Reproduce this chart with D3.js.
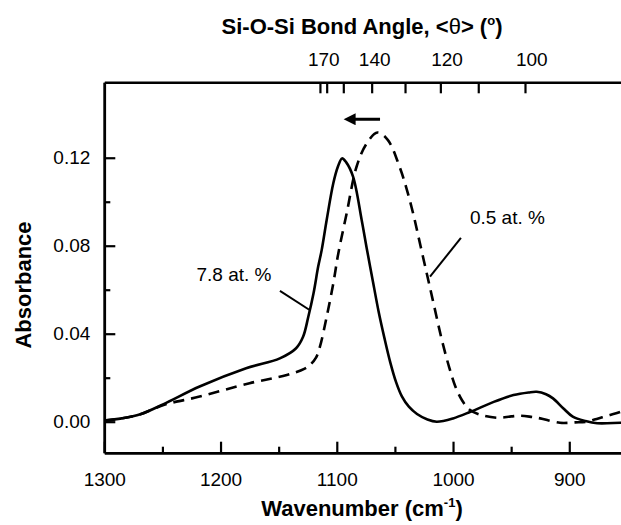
<!DOCTYPE html>
<html lang="en">
<head>
<meta charset="UTF-8">
<script src="https://cdn.jsdelivr.net/npm/d3@7"></script>
<title>Si-O-Si absorbance</title>
<style>
    body { margin: 0; background: white; }
    text { font-family: "Liberation Sans", Arial, sans-serif; fill: black; }
    .tick text { font-size: 19px; }
    .lbl { font-size: 19px; }
    .ttl { font-size: 22px; font-weight: bold; }
</style>
</head>
<body>
<div id="chart"></div>
<script>

    // wavenumber ticks (bottom)
    var wnMajor = [1300, 1200, 1100, 1000, 900];
    var wnMinor = [1250, 1150, 1050, 950];
    // absorbance ticks (left)
    var absMajor = [0.00, 0.04, 0.08, 0.12];
    var absMinor = [0.02, 0.06, 0.10];
    // bond angle ticks (top), placed at wavenumber
    var angleTickWn = [1114.5, 1108.7, 1094.4, 1070.0, 1041.3, 1010.9, 978.3, 938.1];
    var angleLabels = ["170", "140", "120", "100"];
    var angleLabelWn = [1111.2, 1067.4, 1005.2, 932.3];

    // 7.8 at. % (solid)
    var wnSolid = [1300, 1285, 1269, 1249, 1218, 1178, 1149, 1135, 1129, 1124.5, 1120, 1116, 1113,
        1108.7, 1103, 1099, 1095.5, 1092, 1086, 1078.6, 1074.3, 1069, 1064, 1059, 1054, 1049, 1044,
        1038, 1031, 1022, 1014, 1000, 985, 965, 948, 935, 928, 920, 914, 905, 897, 886, 876, 856, 850];
    var absSolid = [0.0005, 0.0015, 0.0034, 0.008, 0.016, 0.0243, 0.0288, 0.0334, 0.0386, 0.0477, 0.0584, 0.0705, 0.078,
        0.0917, 0.1084, 0.116, 0.1197, 0.118, 0.1114, 0.0917, 0.079, 0.064, 0.050, 0.038, 0.027, 0.018, 0.0115,
        0.0068, 0.0035, 0.001, 0.0, 0.0015, 0.0045, 0.009, 0.0121, 0.0133, 0.0136, 0.0125, 0.0106, 0.006, 0.0023, 0.0003, -0.0007, -0.0005, -0.0005];

    // 0.5 at. % (dashed)
    var wnDash = [1300, 1285, 1269, 1249, 1218, 1175, 1143, 1128, 1123, 1118, 1114.5, 1108.7, 1103, 1098.7,
        1091.5, 1083, 1074.3, 1065, 1056, 1046, 1040, 1034, 1028, 1022, 1016, 1010, 1004, 998, 992, 986,
        977, 962, 950, 942, 933, 925, 908, 895, 885, 875, 865, 856, 850];
    var absDash = [0.0005, 0.0015, 0.0034, 0.0076, 0.0114, 0.0175, 0.0212, 0.024, 0.0258, 0.029, 0.0341, 0.0477, 0.0629, 0.0765,
        0.0947, 0.1159, 0.1265, 0.1315, 0.128, 0.1159, 0.106, 0.094, 0.080, 0.066, 0.052, 0.038, 0.026, 0.016, 0.0095, 0.0055,
        0.0032, 0.0018, 0.0024, 0.0027, 0.0022, 0.0015, -0.0005, -0.0003, 0.0, 0.0015, 0.003, 0.0045, 0.006];

    var W = 621, H = 525;
    var svg = d3.select("#chart").append("svg")
        .attr("width", W)
        .attr("height", H);

    var x = d3.scaleLinear().domain([1300, 850]).range([104.3, 627.4]);
    var y = d3.scaleLinear().domain([-0.0141, 0.1543]).range([452.7, 82.3]);
    var top_ = y.range()[1], bottom = y.range()[0], left = x.range()[0];

    function styleAxis(g) {
        g.select(".domain").attr("stroke-width", 2.5);
        g.selectAll(".tick line").attr("stroke-width", 2.2);
    }

    // bottom axis
    svg.append("g")
        .attr("transform", "translate(0," + bottom + ")")
        .call(d3.axisBottom(x).tickValues(wnMajor).tickSizeInner(-11).tickSizeOuter(0).tickPadding(20).tickFormat(d3.format("d")))
        .call(styleAxis);
    svg.append("g")
        .attr("transform", "translate(0," + bottom + ")")
        .call(d3.axisBottom(x).tickValues(wnMinor).tickSizeInner(-6).tickSizeOuter(0).tickFormat(""))
        .call(styleAxis);

    // left axis
    svg.append("g")
        .attr("transform", "translate(" + left + ",0)")
        .call(d3.axisLeft(y).tickValues(absMajor).tickSizeInner(-11).tickSizeOuter(0).tickPadding(14).tickFormat(d3.format(".2f")))
        .call(styleAxis);
    svg.append("g")
        .attr("transform", "translate(" + left + ",0)")
        .call(d3.axisLeft(y).tickValues(absMinor).tickSizeInner(-6).tickSizeOuter(0).tickFormat(""))
        .call(styleAxis);

    // top axis (bond angle)
    svg.append("g")
        .attr("transform", "translate(0," + top_ + ")")
        .call(d3.axisTop(x).tickValues(angleTickWn).tickSizeInner(-11).tickSizeOuter(0).tickFormat(""))
        .call(styleAxis);
    svg.selectAll(".anglelbl")
        .data(angleLabels)
        .enter().append("text")
        .attr("class", "lbl")
        .attr("x", (d, i) => x(angleLabelWn[i]))
        .attr("y", 66)
        .attr("text-anchor", "middle")
        .text(d => d);

    // curves
    var line = d3.line()
        .x(d => x(d[0]))
        .y(d => y(d[1]))
        .curve(d3.curveCatmullRom.alpha(0.5));

    svg.append("path")
        .datum(wnDash.map((w, i) => [w, absDash[i]]))
        .attr("fill", "none")
        .attr("stroke", "black")
        .attr("stroke-width", 2.6)
        .attr("stroke-dasharray", "11,7")
        .attr("d", line);

    svg.append("path")
        .datum(wnSolid.map((w, i) => [w, absSolid[i]]))
        .attr("fill", "none")
        .attr("stroke", "black")
        .attr("stroke-width", 2.6)
        .attr("d", line);

    // arrow showing peak shift
    svg.append("defs").append("marker")
        .attr("id", "head")
        .attr("viewBox", "0 0 10 10")
        .attr("refX", 6).attr("refY", 5)
        .attr("markerWidth", 4.5).attr("markerHeight", 4)
        .attr("markerUnits", "strokeWidth")
        .attr("orient", "auto")
        .append("path").attr("d", "M0,0 L10,5 L0,10 Z").attr("fill", "black");
    svg.append("line")
        .attr("x1", x(1062.8)).attr("y1", y(0.1375))
        .attr("x2", x(1090)).attr("y2", y(0.1375))
        .attr("stroke", "black").attr("stroke-width", 3)
        .attr("marker-end", "url(#head)");

    // labels with leader lines
    svg.append("text").attr("class", "lbl")
        .attr("x", x(1188.4)).attr("y", y(0.064))
        .attr("text-anchor", "middle").text("7.8 at. %");
    svg.append("line")
        .attr("x1", x(1148.9)).attr("y1", y(0.0595))
        .attr("x2", x(1123.7)).attr("y2", y(0.0509))
        .attr("stroke", "black").attr("stroke-width", 2);

    svg.append("text").attr("class", "lbl")
        .attr("x", x(953.2)).attr("y", y(0.0899))
        .attr("text-anchor", "middle").text("0.5 at. %");
    svg.append("line")
        .attr("x1", x(993.2)).attr("y1", y(0.0836))
        .attr("x2", x(1019.8)).attr("y2", y(0.0659))
        .attr("stroke", "black").attr("stroke-width", 2);

    // axis titles
    var xt = svg.append("text").attr("class", "ttl")
        .attr("x", 362).attr("y", 516)
        .attr("font-size", 21)
        .attr("text-anchor", "middle");
    xt.append("tspan").text("Wavenumber (cm");
    xt.append("tspan").attr("dy", -9).attr("font-size", 13).text("-1");
    xt.append("tspan").attr("dy", 9).text(")");

    svg.append("text").attr("class", "ttl")
        .attr("transform", "translate(31,285) rotate(-90)")
        .attr("font-size", 23)
        .attr("text-anchor", "middle")
        .text("Absorbance");

    var tt = svg.append("text").attr("class", "ttl")
        .attr("x", 362).attr("y", 34)
        .attr("text-anchor", "middle");
    tt.append("tspan").text("Si-O-Si Bond Angle, <");
    tt.append("tspan").attr("font-weight", "normal").text("\u03b8");
    tt.append("tspan").text("> (");
    tt.append("tspan").attr("dy", -9).attr("font-size", 13).text("o");
    tt.append("tspan").attr("dy", 9).text(")");

</script>
</body>
</html>
